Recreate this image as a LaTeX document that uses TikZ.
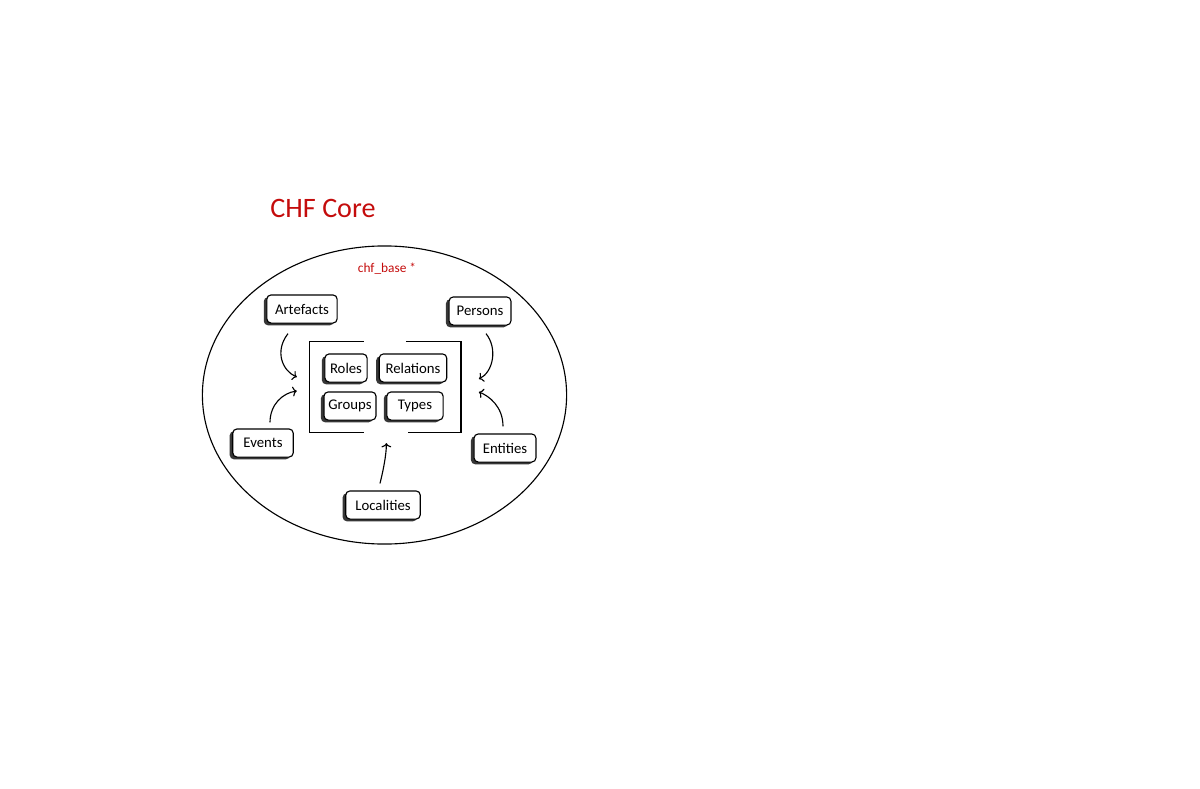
\documentclass[tikz,border=0pt]{standalone}
\usepackage{fontspec}
\setmainfont{Carlito}
\usetikzlibrary{arrows.meta,calc,fit,shadows,shapes.geometric}
\definecolor{chfred}{RGB}{196,12,12}
\definecolor{shadowgray}{RGB}{55,55,55}

\begin{document}
\begin{tikzpicture}[
  x=0.025cm, y=-0.025cm,
  every node/.append style={font=\fontsize{10.5}{12}\selectfont},
  entity/.style={draw, thick, rounded corners=3pt, fill=white,
    minimum height=20pt, inner sep=2pt,
    drop shadow={shadow xshift=-2.2pt, shadow yshift=-1.6pt, fill=shadowgray, opacity=1}},
  flow/.style={thick, -{To[length=3pt,width=7pt]}},
]
\useasboundingbox (0,0) rectangle (1200,788);

% ---------- outer ring: chf_base ----------
\node[ellipse, draw, thick, minimum width=259pt, minimum height=212pt] (base) at (384.5,395) {};
\node[font=\fontsize{20}{24}\selectfont, text=chfred] (title) at (323,208) {CHF Core};
\node[font=\fontsize{9.5}{11}\selectfont, text=chfred] (basename) at (387,269) {chf\_base *};

% ---------- entity boxes ----------
\foreach \nm/\x/\y/\w/\txt in {artefacts/302/309/50/Artefacts, persons/480/311/44/Persons,
    roles/346/368/30/Roles, relations/413/368/48/Relations,
    groups/350/406/37/Groups, types/415/406/40/Types,
    events/263/443/43/Events, entities/505/448/44/Entities,
    localities/383/505/53/Localities} {
  \node[entity, minimum width=\w pt] (\nm) at (\x,\y) {\txt};
}

% ---------- core frame (open at top and bottom) ----------
\node[fit=(roles)(relations)(groups)(types), inner xsep=9.5pt, inner ysep=8pt] (core) {};
\draw[thick] (core.north west) ++(54,0) -- (core.north west) -- (core.south west) -- ++(54,0);
\draw[thick] (core.north east) ++(-55,0) -- (core.north east) -- (core.south east) -- ++(-53,0);

% arrow tips around the frame
\coordinate (artin) at ($(core.west)+(-13,-10)$);
\coordinate (evtin) at ($(core.west)+(-13,4)$);
\coordinate (perin) at ($(core.east)+(18,-8)$);
\coordinate (entin) at ($(core.east)+(18,5)$);
\coordinate (locin) at ($(core.south)+(1,11)$);

% ---------- arrows ----------
\draw[flow] ($(artefacts.south)+(-14,10)$) .. controls +(-14,18) and +(-14,-6) .. (artin);
\draw[flow] ($(events.north)+(7,-6)$) .. controls +(0,-18) and +(-14,2) .. (evtin);
\draw[flow] ($(persons.south)+(6,8)$) .. controls +(12,15) and +(14,-7) .. (perin);
\draw[flow] ($(entities.north)+(-2,-7)$) .. controls +(0,-20) and +(10,4) .. (entin);
\draw[flow] ($(localities.north)+(-3,-7)$) .. controls +(3,-12) and +(0,12) .. (locin);

\end{tikzpicture}
\end{document}
